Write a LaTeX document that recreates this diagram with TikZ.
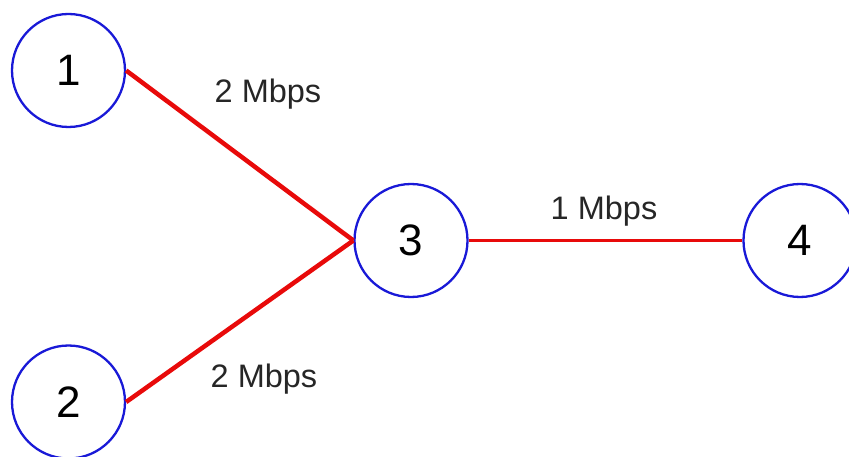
\documentclass[tikz,border=0pt]{standalone}
\usepackage{fontspec}
\setmainfont{Liberation Sans}
\definecolor{nodeblue}{RGB}{25,25,215}
\definecolor{linkred}{RGB}{232,10,10}
\begin{document}
\begin{tikzpicture}[x=1pt,y=-1pt,
  netnode/.style={circle,draw=nodeblue,line width=2.3pt,minimum size=113pt,inner sep=0pt,
    font=\fontsize{44}{48}\selectfont},
  link/.style={draw=linkred,line width=4.5pt},
  thinlink/.style={draw=linkred,line width=3.8pt},
  rate/.style={anchor=base,font=\fontsize{32.5}{36}\selectfont,text=black!85}]
\useasboundingbox (0,0) rectangle (849,457);
\clip (0,0) rectangle (849,457);
\node[netnode] (n1) at (68.5,70.5) {1};
\node[netnode] (n2) at (68.5,402) {2};
\node[netnode] (n3) at (411,240.5) {3};
\node[netnode] (n4) at (800,240.5) {4};
\draw[link] (n1.east) -- (n3.west);
\draw[link] (n2.east) -- (n3.west);
\draw[thinlink] (n3.east) -- (n4.west);
\node[rate] (l13) at (268,103) {2 Mbps};
\node[rate] (l23) at (264,387) {2 Mbps};
\node[rate] (l34) at (604,220) {1 Mbps};
\end{tikzpicture}
\end{document}
